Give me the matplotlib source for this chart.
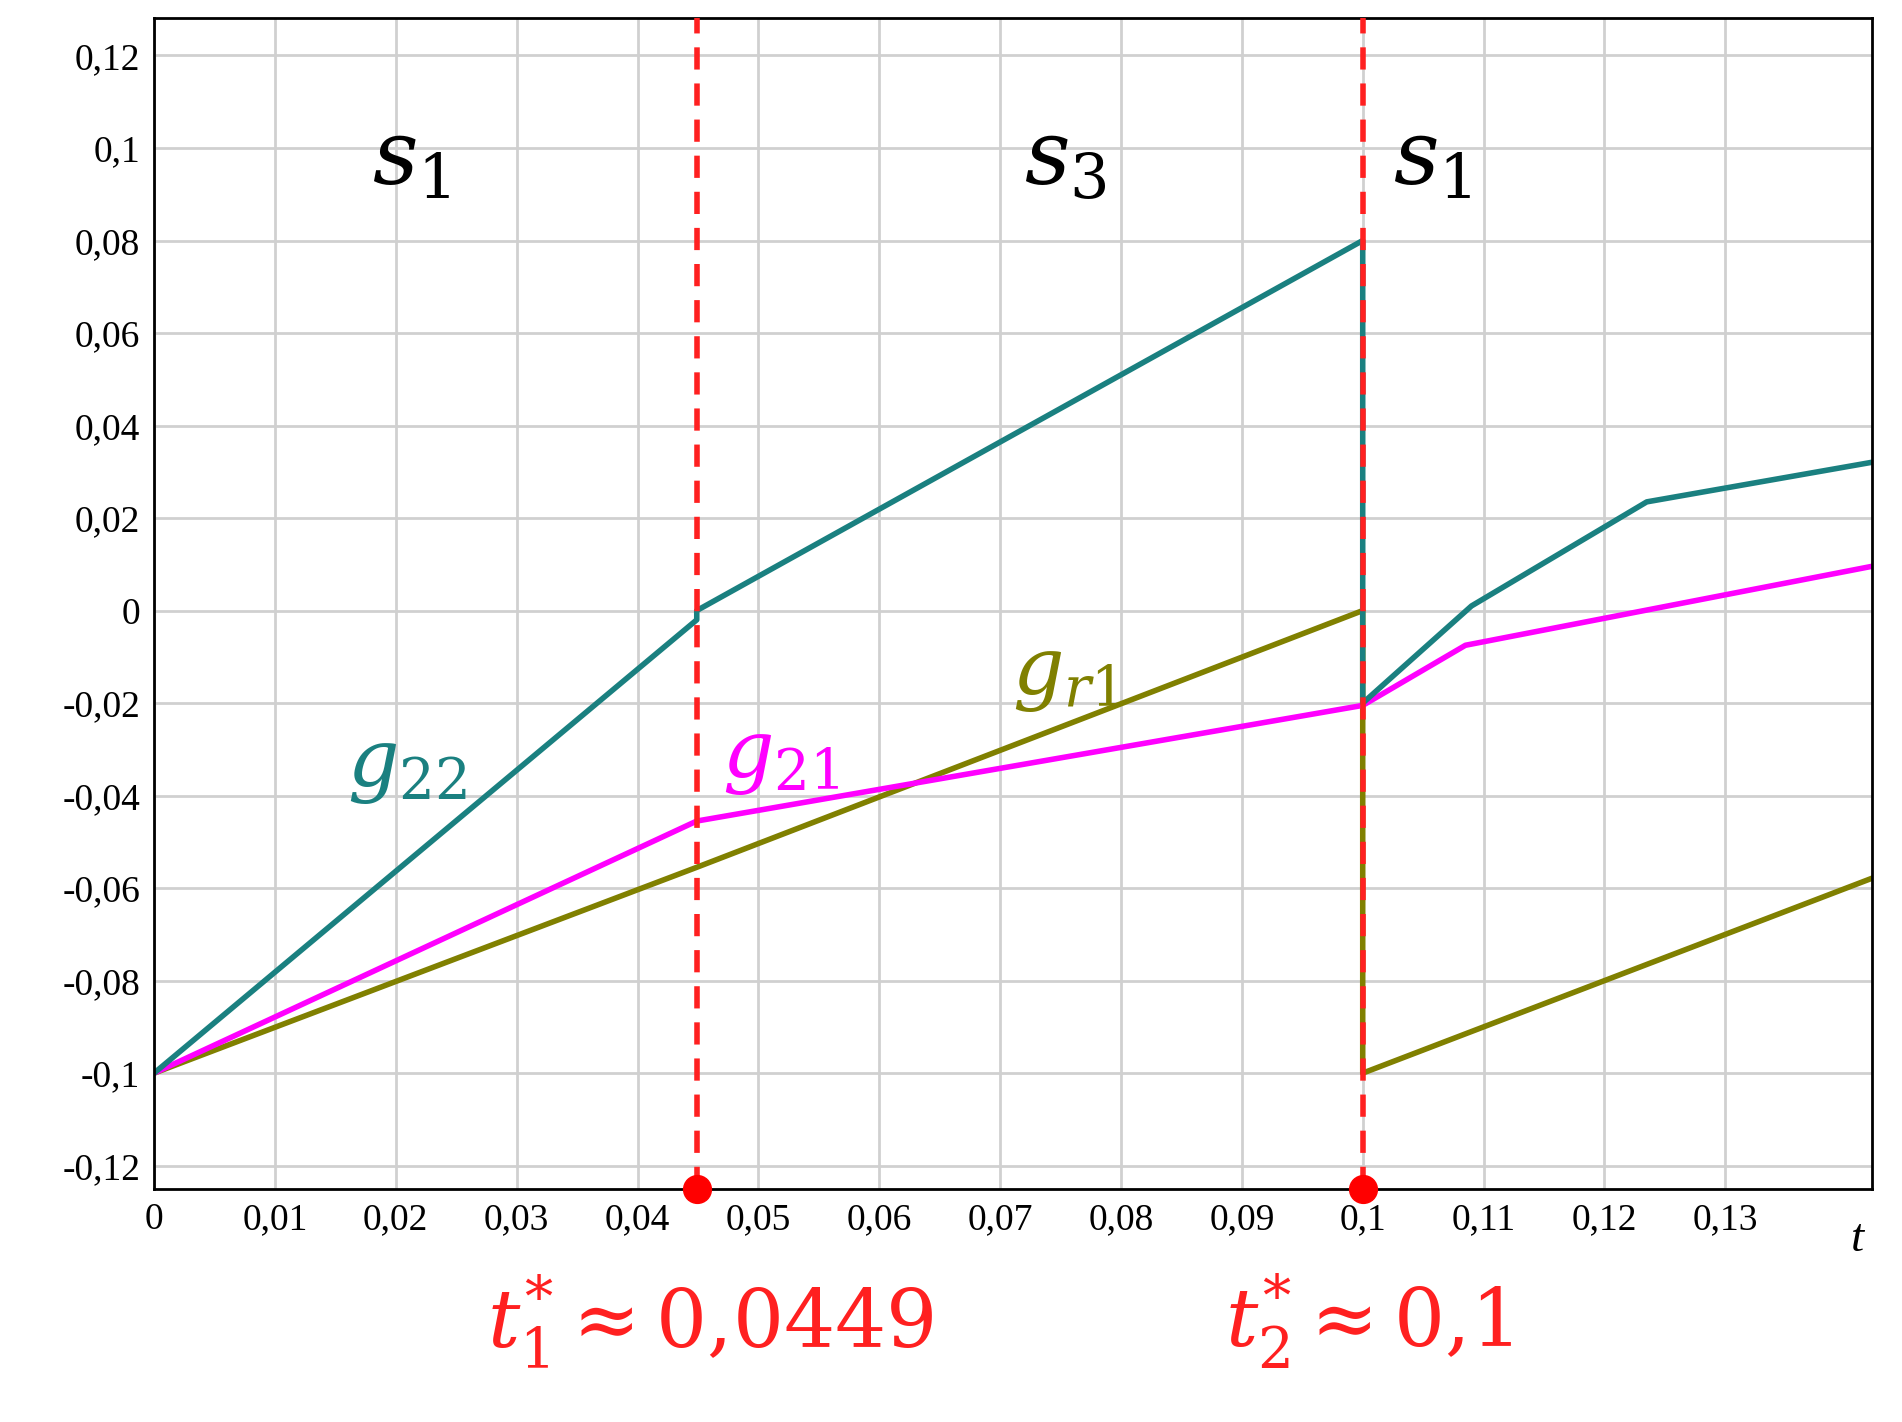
import matplotlib
matplotlib.use("Agg")
import matplotlib.pyplot as plt
from matplotlib.ticker import FuncFormatter

plt.rcParams["mathtext.fontset"] = "dejavuserif"

g22_t = [0, 0.0449, 0.0449, 0.1, 0.1, 0.109, 0.1235, 0.142]
g22_v = [-0.1, -0.002, 0.0, 0.08, -0.02, 0.001, 0.0235, 0.032]
g21_t = [0, 0.0449, 0.1, 0.1085, 0.142]
g21_v = [-0.1, -0.0455, -0.0205, -0.0075, 0.0095]
gr1_t = [0, 0.0449, 0.1, 0.1, 0.142]
gr1_v = [-0.1, -0.0555, 0.0, -0.1, -0.058]
switch_t = [0.0449, 0.1]

fig = plt.figure(figsize=(19.02, 14.22), dpi=100)
ax = fig.add_axes([0.081, 0.164, 0.903, 0.823])
ax.set_xlim(0, 0.1421)
ax.set_ylim(-0.125, 0.128)
ax.set_xticks([i*0.01 for i in range(14)])
ax.set_yticks([i*0.02 for i in range(-6, 7)])
fmt = FuncFormatter(lambda v, p: ("%g" % round(v, 3)).replace(".", ","))
ax.xaxis.set_major_formatter(fmt)
ax.yaxis.set_major_formatter(fmt)
ax.grid(True, color="#d0d0d0", lw=2)
ax.set_axisbelow(True)
for s in ax.spines.values():
    s.set_linewidth(2)
ax.tick_params(labelsize=27, length=0, pad=10)
for lab in ax.get_xticklabels() + ax.get_yticklabels():
    lab.set_family("Liberation Serif")
ax.text(0.1415, -0.1315, "t", fontsize=34, style="italic", family="Liberation Serif", ha="right", va="top")

ax.plot(gr1_t, gr1_v, color="#808000", lw=4)
ax.plot(g21_t, g21_v, color="#ff00ff", lw=4)
ax.plot(g22_t, g22_v, color="#1a8080", lw=4)
for t in switch_t:
    ax.axvline(t, color="#ff2020", lw=4, ls=(0, (4, 2.5)), zorder=5)
ax.plot(switch_t, [-0.125]*2, "o", color="#ff0000", ms=20, clip_on=False, zorder=6)

ax.text(0.018, 0.092, r"$s_{\mathit{1}}$", fontsize=64, color="black")
ax.text(0.072, 0.092, r"$s_{\mathit{3}}$", fontsize=64, color="black")
ax.text(0.1025, 0.092, r"$s_{\mathit{1}}$", fontsize=64, color="black")
ax.text(0.016, -0.038, r"$g_{\mathit{22}}$", fontsize=58, color="#1a8080")
ax.text(0.047, -0.036, r"$g_{\mathit{21}}$", fontsize=58, color="#ff00ff")
ax.text(0.071, -0.018, r"$g_{r\mathit{1}}$", fontsize=58, color="#808000")
ax.text(0.046, -0.143, r"$t_{\mathit{1}}^{*}\approx \mathit{0{,}0449}$", fontsize=58, color="#ff2020", ha="center", va="top")
ax.text(0.1005, -0.143, r"$t_{\mathit{2}}^{*}\approx \mathit{0{,}1}$", fontsize=58, color="#ff2020", ha="center", va="top")
fig.savefig("out.png")
